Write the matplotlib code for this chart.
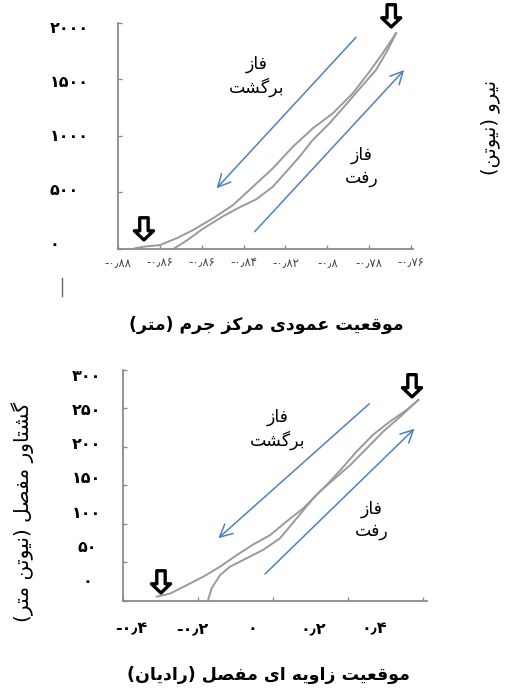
import numpy as np
import matplotlib
matplotlib.use("Agg")
import matplotlib.pyplot as plt
from matplotlib.lines import Line2D

plt.rcParams['font.family'] = ['DejaVu Sans']

# ---------------- data (top: force vs vertical COM position) ----------------
top_xticks = [-0.90, -0.88, -0.86, -0.84, -0.82, -0.80, -0.78, -0.76]
top_xlabels = ["-۰٫۸۸", "-۰٫۸۶", "-۰٫۸۶", "-۰٫۸۴", "-۰٫۸۲", "-۰٫۸", "-۰٫۷۸", "-۰٫۷۶"]
top_yticks = [0, 500, 1000, 1500, 2000]
top_ylabels = ["۰", "۵۰۰", "۱۰۰۰", "۱۵۰۰", "۲۰۰۰"]

top_back_x = [-0.8919, -0.8879, -0.8800, -0.8720, -0.8641, -0.8546, -0.8450, -0.8355,
              -0.8260, -0.8164, -0.8069, -0.7973, -0.7878, -0.7798, -0.7735, -0.7671]
top_back_y = [6, 20, 35, 95, 168, 272, 389, 551, 714, 905, 1068, 1201, 1378, 1569, 1732, 1909]
top_fwd_x = [-0.8736, -0.8672, -0.8593, -0.8498, -0.8418, -0.8339, -0.8260, -0.8196,
             -0.8132, -0.8069, -0.7989, -0.7910, -0.7830, -0.7767, -0.7711, -0.7671]
top_fwd_y = [0, 75, 180, 290, 370, 440, 551, 684, 817, 965, 1112, 1279, 1451, 1584, 1761, 1909]

# ---------------- data (bottom: joint moment vs joint angle) ----------------
bot_xticks = [-0.4, -0.2, 0.0, 0.2, 0.4]
bot_xlabels = ["-۰٫۴", "-۰٫۲", "۰", "۰٫۲", "۰٫۴"]
bot_yticks = [0, 50, 100, 150, 200, 250, 300]
bot_ylabels = ["۰", "۵۰", "۱۰۰", "۱۵۰", "۲۰۰", "۲۵۰", "۳۰۰"]

bot_back_x = [-0.3101, -0.2747, -0.2301, -0.1859, -0.1413, -0.0968, -0.0525, -0.0080, 0.0365,
              0.0808, 0.1253, 0.1699, 0.2053, 0.2499, 0.2941, 0.3387, 0.3741, 0.3875]
bot_back_y = [5, 9, 20, 31, 44, 59, 73, 85, 103, 120, 142, 161, 176, 198, 220, 239, 255, 261]
bot_fwd_x = [-0.1733, -0.1635, -0.1413, -0.1147, -0.0701, -0.0259, 0.0187, 0.0632, 0.1075,
             0.1520, 0.1875, 0.2232, 0.2675, 0.3120, 0.3565, 0.3875]
bot_fwd_y = [0, 16, 33, 44, 55, 66, 81, 107, 133, 155, 174, 194, 216, 233, 248, 261]

# labels
title_top = "موقعیت عمودی مرکز جرم (متر)"
title_bot = "موقعیت زاویه ای مفصل (رادیان)"
ylab_top = "نیرو (نیوتن)"
ylab_bot = "گشتاور مفصل (نیوتن متر)"
txt_back = "فاز\nبرگشت"
txt_fwd = "فاز\nرفت"

# ---------------- tiny persian shaper (matplotlib has no bidi) ----------------
FORMS = {
    'ا': ('\uFE8D', '\uFE8E', None, None),
    'ب': ('\uFE8F', '\uFE90', '\uFE91', '\uFE92'),
    'ت': ('\uFE95', '\uFE96', '\uFE97', '\uFE98'),
    'ج': ('\uFE9D', '\uFE9E', '\uFE9F', '\uFEA0'),
    'د': ('\uFEA9', '\uFEAA', None, None),
    'ر': ('\uFEAD', '\uFEAE', None, None),
    'ز': ('\uFEAF', '\uFEB0', None, None),
    'ش': ('\uFEB5', '\uFEB6', '\uFEB7', '\uFEB8'),
    'ص': ('\uFEB9', '\uFEBA', '\uFEBB', '\uFEBC'),
    'ع': ('\uFEC9', '\uFECA', '\uFECB', '\uFECC'),
    'ف': ('\uFED1', '\uFED2', '\uFED3', '\uFED4'),
    'ق': ('\uFED5', '\uFED6', '\uFED7', '\uFED8'),
    'ک': ('\uFB8E', '\uFB8F', '\uFB90', '\uFB91'),
    'گ': ('\uFB92', '\uFB93', '\uFB94', '\uFB95'),
    'ل': ('\uFEDD', '\uFEDE', '\uFEDF', '\uFEE0'),
    'م': ('\uFEE1', '\uFEE2', '\uFEE3', '\uFEE4'),
    'ن': ('\uFEE5', '\uFEE6', '\uFEE7', '\uFEE8'),
    'ه': ('\uFEE9', '\uFEEA', '\uFEEB', '\uFEEC'),
    'و': ('\uFEED', '\uFEEE', None, None),
    'ی': ('\uFBFC', '\uFBFD', '\uFBFE', '\uFBFF'),
}
MIRROR = {'(': ')', ')': '('}


def fa(s):
    lines = []
    for line in s.split('\n'):
        out = []
        for i, c in enumerate(line):
            if c not in FORMS:
                out.append(MIRROR.get(c, c))
                continue
            prev = line[i - 1] if i > 0 else ''
            nxt = line[i + 1] if i + 1 < len(line) else ''
            jp = prev in FORMS and FORMS[prev][2] is not None
            jn = FORMS[c][2] is not None and nxt in FORMS
            if jp and jn:
                out.append(FORMS[c][3])
            elif jn:
                out.append(FORMS[c][2])
            elif jp:
                out.append(FORMS[c][1])
            else:
                out.append(FORMS[c][0])
        lines.append(''.join(out[::-1]))
    return '\n'.join(lines)


W, H = 505, 693
fig = plt.figure(figsize=(W / 100, H / 100), dpi=100)

gray_line = '#9a9a9a'
spine_col = '#8a8a8a'
blue = '#4f81bd'


def style(ax):
    for s in ['top', 'right']:
        ax.spines[s].set_visible(False)
    for s in ['left', 'bottom']:
        ax.spines[s].set_color(spine_col)
        ax.spines[s].set_linewidth(1.3)
    ax.tick_params(direction='in', length=3, width=1, color=spine_col)


def block_arrow(ax, x, y):
    # hollow down arrow, tip at (x, y)
    ax.annotate('', xy=(x, y), xytext=(0, 16), textcoords='offset points',
                annotation_clip=False,
                arrowprops=dict(arrowstyle='simple,head_length=0.6,head_width=1.25,tail_width=0.55',
                                fc='white', ec='black', lw=2.4, mutation_scale=11,
                                shrinkA=0, shrinkB=0))


def phase_arrow(ax, x0, y0, x1, y1):
    ax.annotate('', xy=(x1, y1), xytext=(x0, y0),
                arrowprops=dict(arrowstyle='->,head_length=0.9,head_width=0.45',
                                color=blue, lw=1.1, shrinkA=0, shrinkB=0))


def label_axes(ax, xlim, ylim):
    # the scanned labels do not sit on the tick marks, so they get their own scale
    lab = fig.add_axes(ax.get_position(), frameon=False, zorder=-1)
    lab.set_xlim(*xlim)
    lab.set_ylim(*ylim)
    lab.tick_params(length=0)
    return lab


# ---------------- top panel ----------------
ax1 = fig.add_axes([118 / W, 1 - 249 / H, 295 / W, 226 / H])
style(ax1)
ax1.plot(top_back_x, top_back_y, color=gray_line, lw=1.4)
ax1.plot(top_fwd_x, top_fwd_y, color=gray_line, lw=1.4)
ax1.set_xlim(-0.90, -0.759)
ax1.set_ylim(0, 2000)
ax1.set_xticks(top_xticks, top_xlabels)
ax1.set_yticks(top_yticks)
ax1.set_yticklabels([])
for t in ax1.get_xticklabels():
    t.set_fontsize(8.5)
    t.set_color('#444444')
ax1.tick_params(axis='x', pad=6)

lab1 = label_axes(ax1, (-0.90, -0.759), (-55.6, 2037))
lab1.set_xticks([])
lab1.set_yticks(top_yticks, top_ylabels)
lab1.tick_params(axis='y', pad=49)
for t in lab1.get_yticklabels():
    t.set_fontsize(11.5)
    t.set_fontweight('bold')
    t.set_horizontalalignment('left')

phase_arrow(ax1, -0.7862, 1874, -0.8529, 537)
phase_arrow(ax1, -0.8347, 153, -0.7632, 1584)
ax1.text(-0.8337, 1530, fa(txt_back), fontsize=12.5, ha='center', va='center', linespacing=1.3)
ax1.text(-0.7834, 728, fa(txt_fwd), fontsize=12.5, ha='center', va='center', linespacing=1.3)
block_arrow(ax1, -0.8876, 80)
block_arrow(ax1, -0.7694, 1965)

# ---------------- bottom panel ----------------
ax2 = fig.add_axes([123 / W, 1 - 600.5 / H, 304 / W, 230.5 / H])
style(ax2)
ax2.plot(bot_back_x, bot_back_y, color=gray_line, lw=1.4)
ax2.plot(bot_fwd_x, bot_fwd_y, color=gray_line, lw=1.4)
ax2.set_xlim(-0.4, 0.4107)
ax2.set_ylim(0, 300)
ax2.set_xticks(bot_xticks)
ax2.set_yticks(bot_yticks)
ax2.set_xticklabels([])
ax2.set_yticklabels([])

lab2 = label_axes(ax2, (-0.4263, 0.5721), (-30.0, 307.3))
lab2.set_xticks(bot_xticks, bot_xlabels)
lab2.set_yticks(bot_yticks, bot_ylabels)
lab2.tick_params(axis='x', pad=15)
lab2.tick_params(axis='y', pad=26)
for t in lab2.get_xticklabels() + lab2.get_yticklabels():
    t.set_fontsize(11.5)
    t.set_fontweight('bold')
for t in lab2.get_yticklabels():
    t.set_horizontalalignment('center')

phase_arrow(ax2, 0.2568, 256, -0.1459, 81)
phase_arrow(ax2, -0.0213, 34.5, 0.3773, 223.6)
ax2.text(0.0133, 223, fa(txt_back), fontsize=12.5, ha='center', va='center', linespacing=1.3)
ax2.text(0.2632, 104.5, fa(txt_fwd), fontsize=12.5, ha='center', va='center', linespacing=1.3)
block_arrow(ax2, -0.2987, 9.8)
block_arrow(ax2, 0.3707, 265)

# ---------------- axis titles ----------------
fig.text(266 / W, 1 - 325 / H, fa(title_top), fontsize=12.5, fontweight='bold',
         ha='center', va='center')
fig.text(268 / W, 1 - 675 / H, fa(title_bot), fontsize=12.5, fontweight='bold',
         ha='center', va='center')
fig.text(490 / W, 1 - 127 / H, fa(ylab_top), fontsize=14, rotation=90,
         ha='center', va='center')
fig.text(23 / W, 1 - 512 / H, fa(ylab_bot), fontsize=14.5, rotation=90,
         ha='center', va='center')

# stray scan mark under the top panel
fig.add_artist(Line2D([62 / W, 62 / W], [1 - 278 / H, 1 - 296 / H],
                      transform=fig.transFigure, color='#666666', lw=1))

fig.savefig('out.png', dpi=100)
